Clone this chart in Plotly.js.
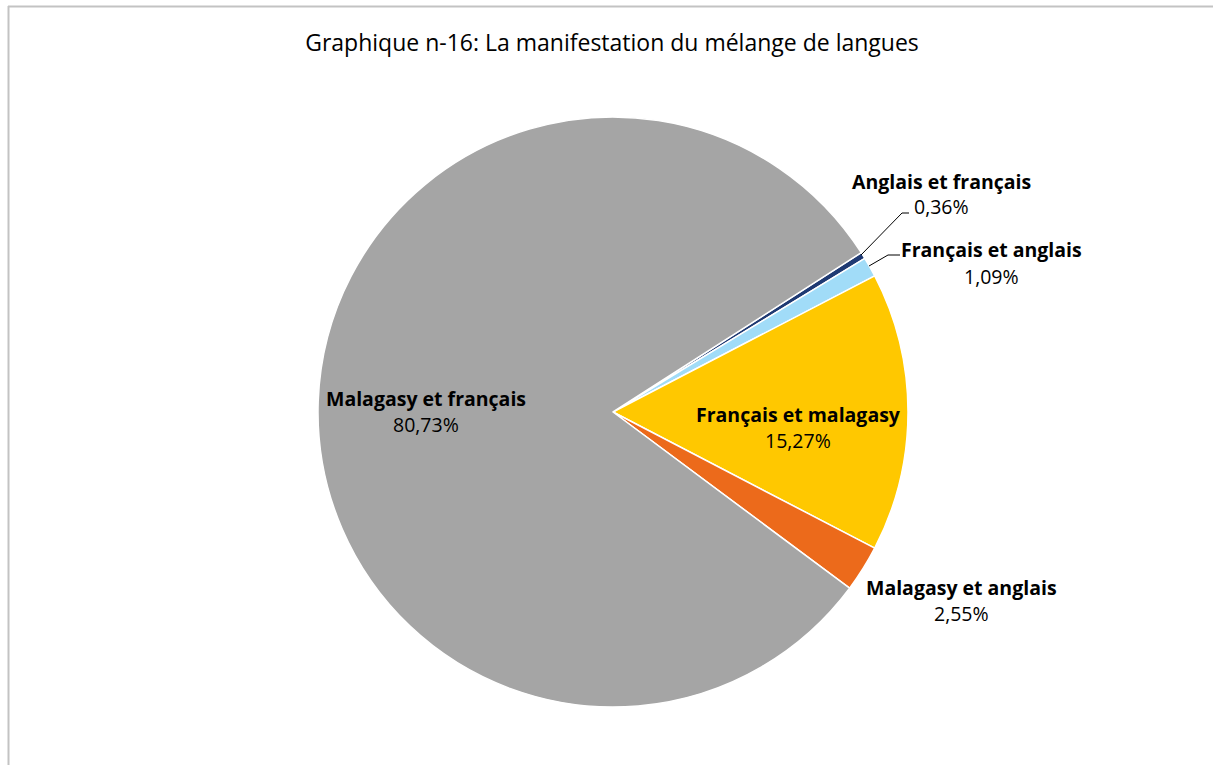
<!DOCTYPE html>
<html>
<head>
<meta charset="utf-8">
<script src="https://cdn.plot.ly/plotly-3.0.1.min.js"></script>
<style>
  html, body { margin: 0; padding: 0; background: #fff; }
  #chart { width: 1213px; height: 765px; }
</style>
</head>
<body>
<div id="chart"></div>
<script>
const categories = [
  'Anglais et français',
  'Français et anglais',
  'Français et malagasy',
  'Malagasy et anglais',
  'Malagasy et français'
];
const shares = [0.36, 1.09, 15.27, 2.55, 80.73];
const sliceColors = ['#1F3A73', '#A1DCF8', '#FFC800', '#EC6A1B', '#A5A5A5'];

const W = 1213, H = 765;
const px = x => x / W;
const py = y => 1 - y / H;
const fmt = v => v.toFixed(2).replace('.', ',') + '%';

// label anchors (pixels): [x, y of the name line]
const labelPos = [
  [941, 181],
  [991, 250],
  [798, 415],
  [961, 587],
  [426, 398]
];

const font = '"Open Sans", sans-serif';

const annotations = [];
categories.forEach((c, i) => {
  const [x, y] = labelPos[i];
  annotations.push({
    xref: 'paper', yref: 'paper', x: px(x), y: py(y),
    text: '<b>' + c + '</b>', showarrow: false,
    xanchor: 'center', yanchor: 'middle',
    font: { family: font, size: 19.5, color: '#000' }
  });
  annotations.push({
    xref: 'paper', yref: 'paper', x: px(x), y: py(y + 26),
    text: fmt(shares[i]), showarrow: false,
    xanchor: 'center', yanchor: 'middle',
    font: { family: font, size: 19.5, color: '#000' }
  });
});

const leader = pts => ({
  type: 'path', xref: 'paper', yref: 'paper',
  path: pts.map((p, k) => (k ? 'L' : 'M') + px(p[0]) + ',' + py(p[1])).join(' '),
  line: { color: '#000', width: 1 }
});

const trace = {
  type: 'pie',
  labels: categories,
  values: shares,
  sort: false,
  direction: 'clockwise',
  rotation: 57.3,
  textinfo: 'none',
  hoverinfo: 'label+percent',
  marker: { colors: sliceColors, line: { color: '#fff', width: 1.5 } },
  domain: { x: [px(318), px(908)], y: [py(707), py(117)] },
  showlegend: false
};

const layout = {
  width: W, height: H,
  margin: { l: 0, r: 0, t: 0, b: 0 },
  paper_bgcolor: '#fff',
  separators: ', ',
  title: {
    text: 'Graphique n-16: La manifestation du mélange de langues',
    x: px(612), xanchor: 'center', xref: 'paper',
    y: py(43), yanchor: 'middle', yref: 'paper',
    font: { family: font, size: 23, color: '#000' }
  },
  annotations: annotations,
  shapes: [
    { type: 'line', xref: 'paper', yref: 'paper', x0: px(8), x1: 1, y0: py(6.5), y1: py(6.5),
      line: { color: '#C3C3C3', width: 2 } },
    { type: 'line', xref: 'paper', yref: 'paper', x0: px(8.5), x1: px(8.5), y0: py(6), y1: 0,
      line: { color: '#C3C3C3', width: 2 } },
    leader([[861, 255], [902, 213], [909, 213]]),
    leader([[869, 266], [888, 255], [900, 255]])
  ]
};

Plotly.newPlot('chart', [trace], layout, { displayModeBar: false, staticPlot: true });
</script>
</body>
</html>
